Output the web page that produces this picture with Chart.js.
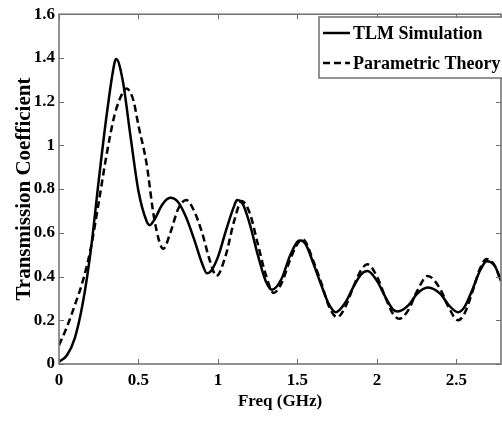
<!DOCTYPE html>
<html>
<head>
<meta charset="utf-8">
<title>Transmission Coefficient</title>
<script src="https://cdn.jsdelivr.net/npm/chart.js@4/dist/chart.umd.min.js"></script>
<style>
  html, body { margin: 0; padding: 0; background: #fff; }
  #wrap { width: 502px; height: 423px; }
</style>
</head>
<body>
<div id="wrap"><canvas id="chart"></canvas></div>
<script>
  // values (GHz, transmission coefficient)
  const tlmFreq = [0, 0.05, 0.1, 0.15, 0.2, 0.25, 0.3, 0.35, 0.36, 0.4, 0.45, 0.5, 0.55, 0.57, 0.6,
    0.65, 0.7, 0.75, 0.8, 0.85, 0.9, 0.93, 0.95, 1, 1.05, 1.1, 1.12, 1.15, 1.2, 1.25, 1.3, 1.34,
    1.4, 1.45, 1.5, 1.52, 1.55, 1.6, 1.65, 1.7, 1.74, 1.8, 1.85, 1.9, 1.94, 2, 2.05, 2.1, 2.13,
    2.2, 2.25, 2.32, 2.4, 2.45, 2.51, 2.55, 2.6, 2.65, 2.69, 2.74, 2.78];
  const tlmValues = [0.01, 0.04, 0.12, 0.28, 0.52, 0.84, 1.14, 1.38, 1.395, 1.3, 1.04, 0.79, 0.655,
    0.635, 0.66, 0.73, 0.76, 0.74, 0.67, 0.57, 0.46, 0.415, 0.42, 0.49, 0.61, 0.72, 0.75, 0.74,
    0.64, 0.5, 0.38, 0.34, 0.39, 0.49, 0.56, 0.565, 0.55, 0.46, 0.36, 0.27, 0.237, 0.28, 0.35,
    0.41, 0.425, 0.38, 0.31, 0.25, 0.24, 0.27, 0.32, 0.35, 0.32, 0.27, 0.237, 0.26, 0.34, 0.43,
    0.47, 0.45, 0.38];

  const theoryFreq = [0, 0.05, 0.1, 0.15, 0.2, 0.25, 0.3, 0.35, 0.4, 0.426, 0.45, 0.47, 0.5, 0.55,
    0.6, 0.656, 0.7, 0.75, 0.8, 0.85, 0.9, 0.95, 0.99, 1.05, 1.1, 1.15, 1.2, 1.25, 1.3, 1.35, 1.4,
    1.45, 1.5, 1.53, 1.55, 1.6, 1.65, 1.7, 1.75, 1.8, 1.85, 1.9, 1.94, 2, 2.05, 2.1, 2.14, 2.2,
    2.25, 2.32, 2.4, 2.45, 2.51, 2.55, 2.6, 2.65, 2.69, 2.74, 2.78];
  const theoryValues = [0.086, 0.17, 0.27, 0.38, 0.53, 0.74, 0.96, 1.14, 1.24, 1.26, 1.24, 1.2,
    1.09, 0.92, 0.66, 0.527, 0.6, 0.71, 0.75, 0.7, 0.6, 0.47, 0.403, 0.5, 0.65, 0.745, 0.69, 0.55,
    0.41, 0.325, 0.37, 0.47, 0.55, 0.57, 0.56, 0.47, 0.37, 0.26, 0.214, 0.26, 0.35, 0.43, 0.456,
    0.4, 0.31, 0.23, 0.207, 0.25, 0.33, 0.403, 0.34, 0.26, 0.2, 0.23, 0.33, 0.44, 0.48, 0.45, 0.38];

  const seriesNames = ["TLM Simulation", "Parametric Theory"];
  const xTickStep = 0.5;
  const yTickStep = 0.2;

  (function() {
    "use strict";

    const SERIF = "'Liberation Serif', 'DejaVu Serif', serif";
    const FRAME = "#6e6e6e";

    /**
     * Pair up a frequency list with its values for a scatter/line dataset.
     */
    function toPoints(xs, ys) {
      return xs.map((x, i) => ({x: x, y: ys[i]}));
    }

    /**
     * Matlab style tick text: 1 instead of 1.0, 0 instead of 0.0
     */
    function shortTick(value) {
      return String(Number(value.toFixed(1)));
    }

    /**
     * Box round the plot with inward ticks on all four sides.
     */
    const framePlugin = {
      id: "frame",
      afterDatasetsDraw(chart) {
        let ctx = chart.ctx;
        let area = chart.chartArea;
        let xs = chart.scales.x;
        let ys = chart.scales.y;
        ctx.save();
        ctx.strokeStyle = FRAME;
        ctx.lineWidth = 1.5;
        ctx.strokeRect(area.left, area.top, area.right - area.left, area.bottom - area.top);
        ctx.lineWidth = 1;
        ctx.beginPath();
        xs.ticks.forEach(t => {
          let px = Math.round(xs.getPixelForValue(t.value)) + 0.5;
          ctx.moveTo(px, area.bottom);
          ctx.lineTo(px, area.bottom - 5);
          ctx.moveTo(px, area.top);
          ctx.lineTo(px, area.top + 5);
        });
        ys.ticks.forEach(t => {
          let py = Math.round(ys.getPixelForValue(t.value)) + 0.5;
          ctx.moveTo(area.left, py);
          ctx.lineTo(area.left + 5, py);
          ctx.moveTo(area.right, py);
          ctx.lineTo(area.right - 5, py);
        });
        ctx.stroke();
        ctx.restore();
      }
    };

    /**
     * Legend drawn inside the top right corner of the plot.
     */
    const legendPlugin = {
      id: "insideLegend",
      afterDraw(chart) {
        let ctx = chart.ctx;
        let area = chart.chartArea;
        let box = {left: 319, top: 17, right: area.right + 4, bottom: 78};
        ctx.save();
        ctx.fillStyle = "#fff";
        ctx.fillRect(box.left, box.top, box.right - box.left, box.bottom - box.top);
        ctx.strokeStyle = FRAME;
        ctx.lineWidth = 1.5;
        ctx.strokeRect(box.left, box.top, box.right - box.left, box.bottom - box.top);

        ctx.font = "bold 18px " + SERIF;
        ctx.textBaseline = "middle";
        ctx.fillStyle = "#000";
        chart.data.datasets.forEach((ds, i) => {
          let y = 33 + i * 30;
          ctx.strokeStyle = ds.borderColor;
          ctx.lineWidth = ds.borderWidth;
          ctx.setLineDash(ds.borderDash || []);
          ctx.beginPath();
          ctx.moveTo(323, y);
          ctx.lineTo(350, y);
          ctx.stroke();
          ctx.setLineDash([]);
          ctx.fillText(ds.label, 353, y + 1);
        });
        ctx.restore();
      }
    };

    function init() {
      let config = {
        type: "scatter",
        data: {
          datasets: [{
            label: seriesNames[0],
            data: toPoints(tlmFreq, tlmValues),
            showLine: true,
            borderColor: "#000",
            borderWidth: 2.5,
            pointRadius: 0,
            cubicInterpolationMode: "monotone"
          }, {
            label: seriesNames[1],
            data: toPoints(theoryFreq, theoryValues),
            showLine: true,
            borderColor: "#000",
            borderWidth: 2.5,
            borderDash: [7, 4],
            pointRadius: 0,
            cubicInterpolationMode: "monotone"
          }]
        },
        options: {
          responsive: true,
          maintainAspectRatio: false,
          animation: false,
          layout: {
            padding: {left: 0, right: 1, top: 11, bottom: 0}
          },
          plugins: {
            legend: {display: false},
            tooltip: {enabled: false}
          },
          scales: {
            x: {
              type: "linear",
              min: 0,
              max: 2.78,
              grid: {display: false, drawTicks: false},
              border: {display: false},
              ticks: {
                stepSize: xTickStep,
                includeBounds: false,
                padding: 6,
                color: "#000",
                maxRotation: 0,
                callback: shortTick,
                font: {family: SERIF, size: 17, weight: "bold"}
              },
              title: {
                display: true,
                text: "Freq (GHz)",
                color: "#000",
                padding: {top: 0, bottom: 11},
                font: {family: SERIF, size: 17, weight: "bold"}
              },
              afterFit: scale => { scale.height = 59; }
            },
            y: {
              min: 0,
              max: 1.6,
              grid: {display: false, drawTicks: false},
              border: {display: false},
              ticks: {
                stepSize: yTickStep,
                padding: 4,
                color: "#000",
                callback: shortTick,
                font: {family: SERIF, size: 17, weight: "bold"}
              },
              title: {
                display: true,
                text: "Transmission Coefficient",
                color: "#000",
                padding: {top: 12, bottom: 0},
                font: {family: SERIF, size: 21, weight: "bold"}
              },
              afterFit: scale => { scale.width = 59; }
            }
          }
        },
        plugins: [framePlugin, legendPlugin]
      };
      new Chart(document.getElementById("chart"), config);
    }

    init();
  })();
</script>
</body>
</html>
